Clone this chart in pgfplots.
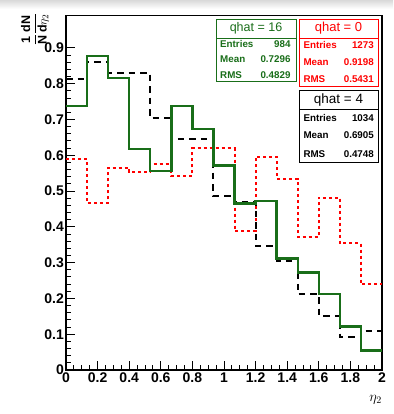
\documentclass[border=0pt]{standalone}
\usepackage{fontspec}
\setmainfont{Liberation Sans}
\usepackage{pgfplots}
\pgfplotsset{compat=1.18}
\definecolor{hgreen}{RGB}{25,110,25}
\definecolor{hred}{RGB}{255,0,0}
\begin{document}
\begin{tikzpicture}
\path[use as bounding box] (0pt,0pt) rectangle (393pt,414pt);
\fill[top color=black!15, bottom color=white] (0pt,405pt) rectangle (393pt,414pt);
\begin{axis}[
  at={(66pt,44pt)}, anchor=south west,
  scale only axis, width=316pt, height=354.3pt,
  xmin=0, xmax=2, ymin=0, ymax=0.99,
  axis line style={line width=1.2pt},
  xtick={0,0.2,0.4,0.6,0.8,1,1.2,1.4,1.6,1.8,2},
  ytick={0,0.1,0.2,0.3,0.4,0.5,0.6,0.7,0.8,0.9},
  minor x tick num=3, minor y tick num=4,
  tick align=inside, xtick pos=lower, ytick pos=left,
  major tick length=9pt, minor tick length=5pt,
  every tick/.style={line width=1pt, black},
  /pgf/number format/assume math mode=true,
  /pgf/number format/fixed,
  /pgf/number format/precision=1,
  tick label style={font=\fontsize{14}{14}\selectfont\bfseries},
  yticklabel style={inner xsep=2pt},
  xticklabel style={inner ysep=3pt},
]
\addplot[const plot, hred, line width=2pt, dash pattern=on 3pt off 3pt] coordinates {
(0,0.589) (0.13333,0.466) (0.26667,0.565) (0.4,0.553) (0.53333,0.577)
(0.66667,0.542) (0.8,0.619) (0.93333,0.619) (1.06667,0.389) (1.2,0.596)
(1.33333,0.535) (1.46667,0.371) (1.6,0.482) (1.73333,0.354) (1.86667,0.240) (2,0.240)};
\addplot[const plot, black, line width=2pt, dash pattern=on 6.5pt off 5pt] coordinates {
(0,0.813) (0.13333,0.862) (0.26667,0.829) (0.4,0.829) (0.53333,0.703)
(0.66667,0.645) (0.8,0.645) (0.93333,0.485) (1.06667,0.470) (1.2,0.346)
(1.33333,0.304) (1.46667,0.211) (1.6,0.152) (1.73333,0.093) (1.86667,0.109) (2,0.109)};
\addplot[const plot, hgreen, line width=2.4pt] coordinates {
(0,0.738) (0.13333,0.877) (0.26667,0.816) (0.4,0.617) (0.53333,0.556)
(0.66667,0.738) (0.8,0.673) (0.93333,0.571) (1.06667,0.465) (1.2,0.473)
(1.33333,0.312) (1.46667,0.273) (1.6,0.213) (1.73333,0.122) (1.86667,0.054) (2,0.054)};
\end{axis}
% axis titles
\node[rotate=90, anchor=east, inner sep=0pt, font=\fontsize{12.5}{12.5}\selectfont\bfseries]
  at (35pt,401pt) {$\displaystyle\frac{\mbox{1}}{\mbox{N}}\frac{\mbox{dN}}{\mbox{d}\eta_{2}}$};
\node[anchor=north east, inner sep=0pt, font=\fontsize{14}{14}\selectfont] at (382pt,19pt) {$\eta_{2}$};
% green stat box
\draw[hgreen, line width=1pt, fill=white] (216pt,394pt) rectangle (296pt,332pt);
\draw[hgreen, line width=1pt] (216pt,375.7pt) -- (296pt,375.7pt);
\node[hgreen, font=\fontsize{12.5}{12.5}\selectfont, inner sep=0pt] at (256pt,386.2pt) {qhat = 16};
\begin{scope}[every node/.style={hgreen, inner sep=0pt, font=\fontsize{9.8}{9.8}\selectfont\bfseries}]
\node[anchor=west] at (220pt,369.7pt) {Entries}; \node[anchor=east] at (290.7pt,369.7pt) {984};
\node[anchor=west] at (220pt,354.7pt) {Mean};    \node[anchor=east] at (290.7pt,354.7pt) {0.7296};
\node[anchor=west] at (220pt,339pt) {RMS};       \node[anchor=east] at (290.7pt,339pt) {0.4829};
\end{scope}
% red stat box
\draw[hred, line width=1pt, fill=white] (299pt,394pt) rectangle (378pt,327.3pt);
\draw[hred, line width=1pt] (299pt,375.7pt) -- (378pt,375.7pt);
\node[hred, font=\fontsize{13}{13}\selectfont, inner sep=0pt] at (338.5pt,385.7pt) {qhat = 0};
\begin{scope}[every node/.style={hred, inner sep=0pt, font=\fontsize{9.8}{9.8}\selectfont\bfseries}]
\node[anchor=west] at (303.3pt,369pt) {Entries}; \node[anchor=east] at (374pt,369pt) {1273};
\node[anchor=west] at (303.3pt,351.7pt) {Mean};  \node[anchor=east] at (374pt,351.7pt) {0.9198};
\node[anchor=west] at (303.3pt,334.7pt) {RMS};   \node[anchor=east] at (374pt,334.7pt) {0.5431};
\end{scope}
% black stat box
\draw[black, line width=1pt, fill=white] (299pt,323pt) rectangle (378pt,251.3pt);
\draw[black, line width=1pt] (299pt,304.7pt) -- (378pt,304.7pt);
\node[black, font=\fontsize{13.5}{13.5}\selectfont, inner sep=0pt] at (338.5pt,314pt) {qhat = 4};
\begin{scope}[every node/.style={black, inner sep=0pt, font=\fontsize{9.8}{9.8}\selectfont\bfseries}]
\node[anchor=west] at (303.3pt,296pt) {Entries}; \node[anchor=east] at (374pt,296pt) {1034};
\node[anchor=west] at (303.3pt,279pt) {Mean};    \node[anchor=east] at (374pt,279pt) {0.6905};
\node[anchor=west] at (303.3pt,260pt) {RMS};     \node[anchor=east] at (374pt,260pt) {0.4748};
\end{scope}
\end{tikzpicture}
\end{document}
